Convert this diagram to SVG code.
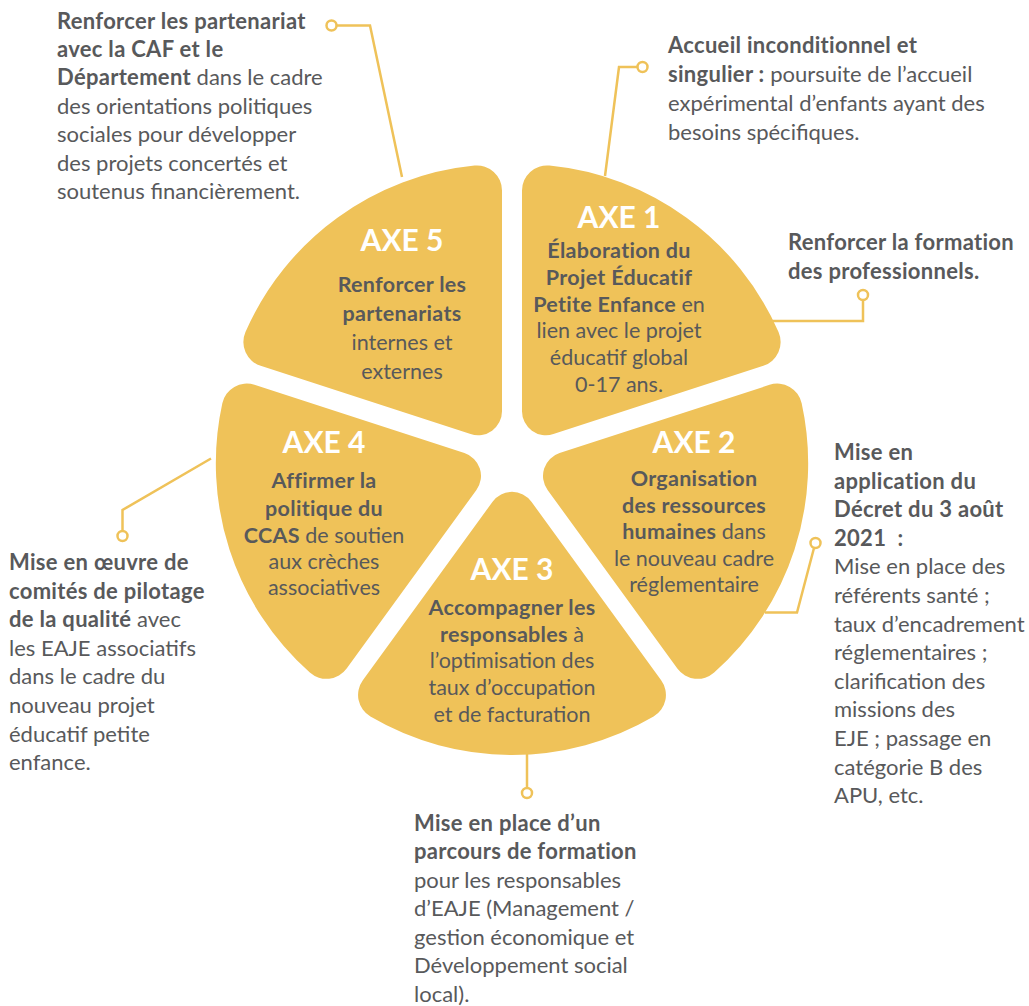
<svg xmlns="http://www.w3.org/2000/svg" xmlns:xlink="http://www.w3.org/1999/xlink" width="1029" height="1006" viewBox="0 0 1029 1006">
<defs>
<path id="sector" d="M26.72,-19.42 L205.31,-149.16 A25,25 0 0 1 241.57,-141.58 A280,280 0 0 1 241.57,141.58 A25,25 0 0 1 205.31,149.16 L26.72,19.42 A24,24 0 0 1 26.72,-19.42 Z"/>
</defs>
<style>
.sec{fill:#EFC259;}
.t{font-family:Lato,"Source Sans Pro","Open Sans",sans-serif;fill:#58595B;font-size:22px;}
.c{text-anchor:middle;font-size:21.5px;}
.h{font-family:Lato,"Open Sans",sans-serif;font-weight:bold;fill:#FFFFFF;font-size:30px;text-anchor:middle;}
.b{font-weight:bold;letter-spacing:0.3px;}
.ln{fill:none;stroke:#EFC259;stroke-width:2.5;stroke-linejoin:miter;}
.dot{fill:#FFFFFF;stroke:#EFC259;stroke-width:2.5;}
</style>
<rect width="1029" height="1006" fill="#FFFFFF"/>
<g id="connectors">
<polyline class="ln" points="336,25.5 370,25.5 402,177"/>
<circle class="dot" cx="331.5" cy="25.5" r="5"/>
<polyline class="ln" points="637,67 619,67 605,176"/>
<circle class="dot" cx="642.5" cy="67" r="5"/>
<polyline class="ln" points="863,300 863,321 772,321"/>
<circle class="dot" cx="863" cy="295" r="5"/>
<polyline class="ln" points="814,548 797,612.5 765,612.5"/>
<circle class="dot" cx="815.5" cy="543" r="5"/>
<polyline class="ln" points="122.5,531 122.5,510 211,458.5"/>
<circle class="dot" cx="122.5" cy="536" r="5"/>
<polyline class="ln" points="527,752 527,788"/>
<circle class="dot" cx="527" cy="793" r="5"/>
</g>
<g id="axe1">
<use xlink:href="#sector" class="sec" transform="translate(522,444.25) rotate(-54)"/>
<text class="h" x="619" y="228">AXE 1</text>
<text class="t c" x="619"><tspan class="b" x="619" y="257.5">Élaboration du</tspan><tspan class="b" x="619" y="284.5">Projet Éducatif</tspan><tspan x="619" y="311.5"><tspan class="b">Petite Enfance</tspan> en</tspan><tspan x="619" y="338">lien avec le projet</tspan><tspan x="619" y="365">éducatif global</tspan><tspan x="619" y="391.5">0-17 ans.</tspan></text>
</g>
<g id="axe2">
<use xlink:href="#sector" class="sec" transform="translate(528.17,463.25) rotate(18)"/>
<text class="h" x="694" y="452.5">AXE 2</text>
<text class="t c" x="694"><tspan class="b" x="694" y="486">Organisation</tspan><tspan class="b" x="694" y="512.5">des ressources</tspan><tspan x="694" y="539"><tspan class="b">humaines</tspan> dans</tspan><tspan x="694" y="565.5">le nouveau cadre</tspan><tspan x="694" y="591.5">réglementaire</tspan></text>
</g>
<g id="axe3">
<use xlink:href="#sector" class="sec" transform="translate(512,475) rotate(90)"/>
<text class="h" x="512" y="580">AXE 3</text>
<text class="t c" x="512"><tspan class="b" x="512" y="614.5">Accompagner les</tspan><tspan x="512" y="641.5"><tspan class="b">responsables</tspan> à</tspan><tspan x="512" y="668">l’optimisation des</tspan><tspan x="512" y="695">taux d’occupation</tspan><tspan x="512" y="721.5">et de facturation</tspan></text>
</g>
<g id="axe4">
<use xlink:href="#sector" class="sec" transform="translate(495.83,463.25) rotate(162)"/>
<text class="h" x="324" y="452.5">AXE 4</text>
<text class="t c" x="324"><tspan class="b" x="324" y="488">Affirmer la</tspan><tspan class="b" x="324" y="515.5">politique du</tspan><tspan x="324" y="542.5"><tspan class="b">CCAS</tspan> de soutien</tspan><tspan x="324" y="568.5">aux crèches</tspan><tspan x="324" y="595">associatives</tspan></text>
</g>
<g id="axe5">
<use xlink:href="#sector" class="sec" transform="translate(502,444.25) rotate(234)"/>
<text class="h" x="402" y="251">AXE 5</text>
<text class="t c" x="402"><tspan class="b" x="402" y="292">Renforcer les</tspan><tspan class="b" x="402" y="321">partenariats</tspan><tspan x="402" y="350">internes et</tspan><tspan x="402" y="379">externes</tspan></text>
</g>
<g id="note-axe5">
<text class="t"><tspan class="b" x="57" y="28.5">Renforcer les partenariat</tspan><tspan class="b" x="57" y="56.9">avec la CAF et le</tspan><tspan x="57" y="85.3"><tspan class="b">Département</tspan> dans le cadre</tspan><tspan x="57" y="113.7">des orientations politiques</tspan><tspan x="57" y="142.1">sociales pour développer</tspan><tspan x="57" y="170.5">des projets concertés et</tspan><tspan x="57" y="198.9">soutenus financièrement.</tspan></text>
</g>
<g id="note-accueil">
<text class="t"><tspan class="b" x="668" y="52.5">Accueil inconditionnel et</tspan><tspan x="668" y="81.5"><tspan class="b">singulier :</tspan> poursuite de l’accueil</tspan><tspan x="668" y="110.5">expérimental d’enfants ayant des</tspan><tspan x="668" y="139.5">besoins spécifiques.</tspan></text>
</g>
<g id="note-formation">
<text class="t b"><tspan x="788" y="250">Renforcer la formation</tspan><tspan x="788" y="279">des professionnels.</tspan></text>
</g>
<g id="note-decret">
<text class="t"><tspan class="b" x="834" y="460">Mise en</tspan><tspan class="b" x="834" y="488.6">application du</tspan><tspan class="b" x="834" y="517.2">Décret du 3 août</tspan><tspan class="b" x="834" y="545.8">2021&#160; :</tspan><tspan x="834" y="574.4">Mise en place des</tspan><tspan x="834" y="603">référents santé ;</tspan><tspan x="834" y="631.6">taux d’encadrement</tspan><tspan x="834" y="660.2">réglementaires ;</tspan><tspan x="834" y="688.8">clarification des</tspan><tspan x="834" y="717.4">missions des</tspan><tspan x="834" y="746">EJE ; passage en</tspan><tspan x="834" y="774.6">catégorie B des</tspan><tspan x="834" y="803.2">APU, etc.</tspan></text>
</g>
<g id="note-comites">
<text class="t"><tspan class="b" x="9" y="570">Mise en œuvre de</tspan><tspan class="b" x="9" y="598.6">comités de pilotage</tspan><tspan x="9" y="627.2"><tspan class="b">de la qualité</tspan> avec</tspan><tspan x="9" y="655.8">les EAJE associatifs</tspan><tspan x="9" y="684.4">dans le cadre du</tspan><tspan x="9" y="713">nouveau projet</tspan><tspan x="9" y="741.6">éducatif petite</tspan><tspan x="9" y="770.2">enfance.</tspan></text>
</g>
<g id="note-parcours">
<text class="t"><tspan class="b" x="414" y="830.7">Mise en place d’un</tspan><tspan class="b" x="414" y="859.2">parcours de formation</tspan><tspan x="414" y="887.7">pour les responsables</tspan><tspan x="414" y="916.2">d’EAJE (Management /</tspan><tspan x="414" y="944.7">gestion économique et</tspan><tspan x="414" y="973.2">Développement social</tspan><tspan x="414" y="1001.7">local).</tspan></text>
</g>
</svg>
